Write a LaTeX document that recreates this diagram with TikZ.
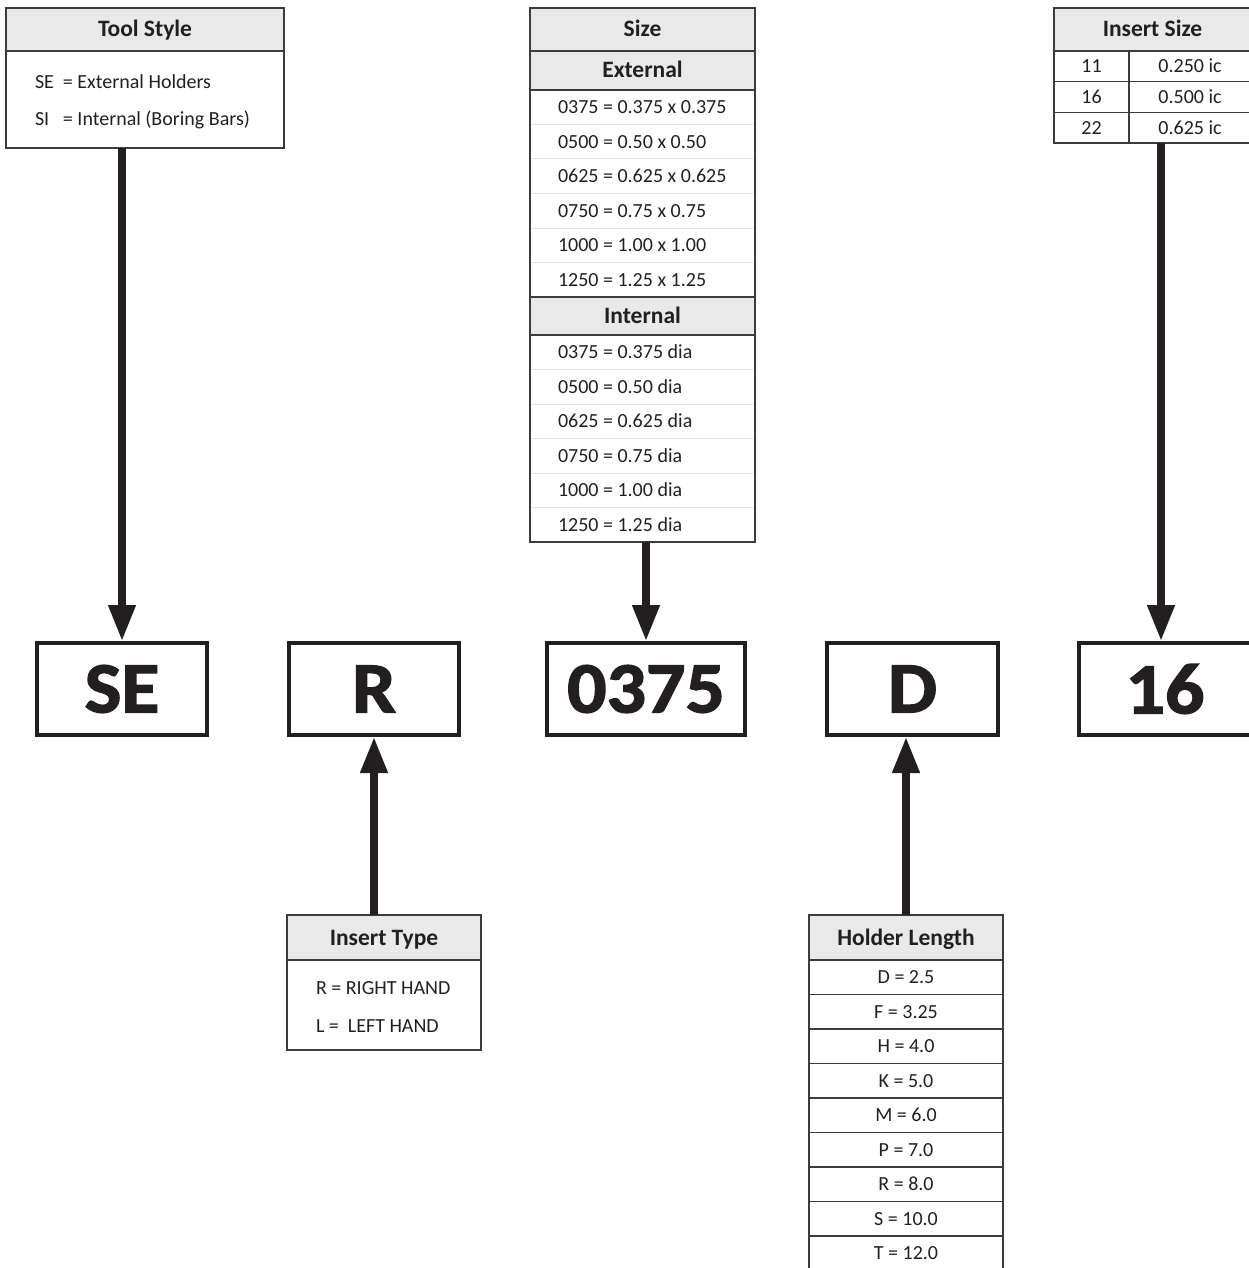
\documentclass[tikz,border=0pt]{standalone}
\usepackage{fontspec}
\setmainfont{Carlito}
\newfontfamily\codefam{Carlito}[BoldFeatures={FakeBold=2,FakeStretch=1.08}]
\usetikzlibrary{arrows.meta,positioning}

\definecolor{inkc}{HTML}{231F20}
\definecolor{rulec}{HTML}{3C3C3C}
\definecolor{headc}{HTML}{E8E9E8}
\definecolor{faintc}{HTML}{E4E4E4}
\newcommand{\bodyfont}{\fontsize{20}{22}\selectfont}
\newcommand{\headfont}{\fontsize{23.5}{25}\selectfont\bfseries}
\newcommand{\codefont}{\codefam\fontsize{72}{76}\selectfont\bfseries}
\newcommand{\lefttext}[2][169pt]{\makebox[#1][l]{#2}}

\begin{document}
\begin{tikzpicture}[
  x=1pt,y=1pt,
  node distance=0pt,
  cell/.style={draw=rulec,line width=1.2pt,inner sep=0pt,outer sep=0pt,text=inkc,font=\bodyfont},
  line/.style={cell,minimum height=34.5pt,text height=13pt,text depth=0pt},
  head/.style={cell,fill=headc,font=\headfont,text height=15pt,text depth=0pt},
  sizerow/.style={line,draw=none,minimum width=225pt,inner xsep=28pt},
  holdrow/.style={line,minimum width=194pt},
  isrow/.style={line,minimum height=30.7pt},
  codebox/.style={draw=inkc,line width=4pt,minimum height=92pt,inner sep=0pt,text=inkc,font=\codefont},
  link/.style={draw=inkc,line width=7.5pt,-{Triangle[width=26pt,length=36pt]}}
]
\useasboundingbox (0,0) rectangle (1249,-1268);

% tool style
\node[head,minimum width=278pt,minimum height=43pt,anchor=north west] (toolhead) at (6,-8) {Tool Style};
\node[cell,minimum width=278pt,minimum height=97pt,below=of toolhead,inner xsep=29pt,align=left]
  (toolbody) {\rule{0pt}{19pt}\lefttext[220pt]{\makebox[28pt][l]{SE}= External Holders}\\[15pt]
    \lefttext[220pt]{\makebox[28pt][l]{SI}= Internal (Boring Bars)}};

% size
\node[head,minimum width=225pt,minimum height=43pt,anchor=north west] (sizehead) at (530,-8) {Size};
\node[head,minimum width=225pt,minimum height=39pt,below=of sizehead,alias=ext0] (exthead) {External};
\foreach \val [count=\i] in {0375 = 0.375 x 0.375,0500 = 0.50 x 0.50,0625 = 0.625 x 0.625,
    0750 = 0.75 x 0.75,1000 = 1.00 x 1.00,1250 = 1.25 x 1.25}{
  \pgfmathtruncatemacro\prev{\i-1}
  \node[sizerow,below=of ext\prev] (ext\i) {\lefttext{\val}};
}
\node[head,minimum width=225pt,minimum height=38pt,below=of ext6,alias=int0] (inthead) {Internal};
\foreach \val [count=\i] in {0375 = 0.375 dia,0500 = 0.50 dia,0625 = 0.625 dia,
    0750 = 0.75 dia,1000 = 1.00 dia,1250 = 1.25 dia}{
  \pgfmathtruncatemacro\prev{\i-1}
  \node[sizerow,below=of int\prev] (int\i) {\lefttext{\val}};
}
\foreach \i in {1,...,5}{
  \draw[faintc,line width=1pt] (ext\i.south west) -- (ext\i.south east);
  \draw[faintc,line width=1pt] (int\i.south west) -- (int\i.south east);
}
\draw[rulec,line width=1.2pt] (exthead.south west) rectangle (int6.south east);

% insert size
\node[head,minimum width=197pt,minimum height=43pt,anchor=north west,alias=isl0] (ishead) at (1054,-8) {Insert Size};
\foreach \code/\ic [count=\i] in {11/0.250 ic,16/0.500 ic,22/0.625 ic}{
  \pgfmathtruncatemacro\prev{\i-1}
  \node[isrow,minimum width=75pt,anchor=north west] (isl\i) at (isl\prev.south west) {\code};
  \node[isrow,minimum width=122pt,right=of isl\i] (isr\i) {\ic};
}

% code boxes
\node[codebox,minimum width=170pt] (sebox) at (122,-689) {SE};
\node[codebox,minimum width=170pt,right=78pt of sebox] (rbox) {R};
\node[codebox,minimum width=198pt,right=84pt of rbox] (sizebox) {0375};
\node[codebox,minimum width=171pt,right=78pt of sizebox] (dbox) {D};
\node[codebox,minimum width=172pt,right=77pt of dbox] (isbox) {16};

% insert type
\node[head,minimum width=194pt,minimum height=45pt,anchor=north west] (typehead) at (287,-915) {Insert Type};
\node[cell,minimum width=194pt,minimum height=90pt,below=of typehead,inner xsep=29pt,align=left]
  (typebody) {\rule{0pt}{16pt}\lefttext[136pt]{R = RIGHT HAND}\\[16pt]\lefttext[136pt]{L = \ LEFT HAND}};

% holder length
\node[head,minimum width=194pt,minimum height=45pt,anchor=north west,alias=hl0] (holdhead) at (809,-915) {Holder Length};
\foreach \val [count=\i] in {D = 2.5,F = 3.25,H = 4.0,K = 5.0,M = 6.0,P = 7.0,R = 8.0,S = 10.0,T = 12.0}{
  \pgfmathtruncatemacro\prev{\i-1}
  \node[holdrow,below=of hl\prev] (hl\i) {\val};
}

% arrows
\draw[link] (sebox.north |- toolbody.south) -- (sebox.north);
\draw[link] (sizebox.north |- int6.south) -- (sizebox.north);
\draw[link] ([xshift=-4pt]isbox.north |- isl3.south) -- ([xshift=-4pt]isbox.north);
\draw[link] (rbox.south |- typehead.north) -- (rbox.south);
\draw[link] (holdhead.north) -- (holdhead.north |- dbox.south);
\end{tikzpicture}
\end{document}
